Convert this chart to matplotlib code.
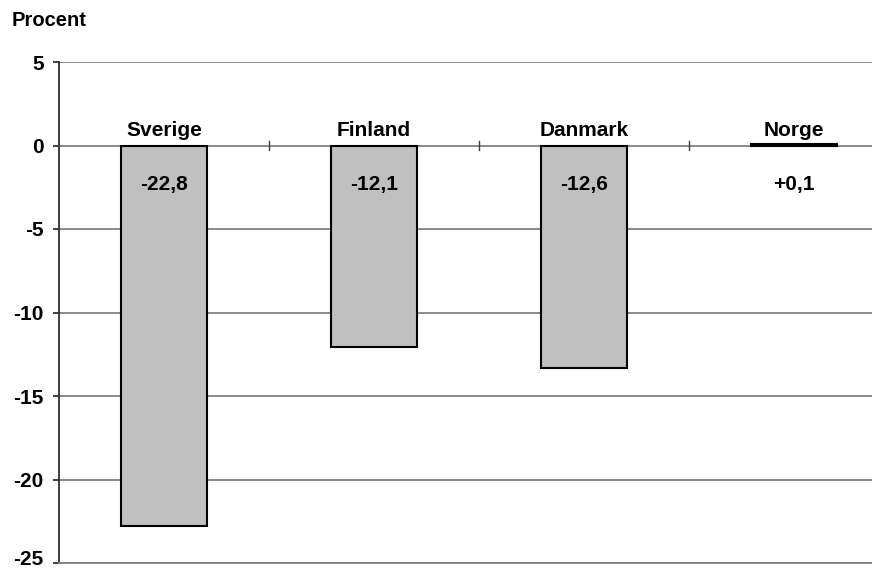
import matplotlib
matplotlib.use("Agg")
import matplotlib.pyplot as plt

# Data
lander = ["Sverige", "Finland", "Danmark", "Norge"]
forandring = [-22.8, -12.05, -13.35, 0.1]
etiketter = ["-22,8", "-12,1", "-12,6", "+0,1"]
yticks = [5, 0, -5, -10, -15, -20, -25]

plt.rcParams['font.family'] = ['Liberation Sans', 'DejaVu Sans']
plt.rcParams['font.weight'] = 'bold'

fig = plt.figure(figsize=(8.72, 5.71), dpi=100)
ax = fig.add_axes([59 / 872, 1 - 563 / 571, 840 / 872, 501 / 571])

x = range(len(lander))
ax.bar(x, forandring, width=0.41, color='#c0c0c0', edgecolor='black',
       linewidth=1.5, zorder=3)

ax.set_ylim(-25, 5)
ax.set_xlim(-0.5, len(lander) - 0.5)
ax.set_yticks(yticks)
# nedersta etiketten ritas separat, lite uppåt så att den inte klipps
ax.set_yticklabels([str(v) for v in yticks[:-1]] + [""], fontsize=15, fontweight='bold')
ax.annotate(str(yticks[-1]), xy=(0, yticks[-1]), xycoords=('axes fraction', 'data'),
            xytext=(-11, 2.5), textcoords='offset points', ha='right', va='center',
            fontsize=15, fontweight='bold', annotation_clip=False)
ax.yaxis.grid(True, color='#808080', linewidth=1.3, zorder=0)
ax.set_axisbelow(True)

# kategoriaxeln vid y=0 med skiljestreck
ax.set_xticks([])
for i in range(1, len(lander)):
    ax.plot([i - 0.5, i - 0.5], [-0.25, 0.25], color='#404040', linewidth=1, zorder=2)

for s in ['top', 'right']:
    ax.spines[s].set_visible(False)
ax.spines['bottom'].set_color('#808080')
ax.spines['bottom'].set_linewidth(1.3)
ax.spines['left'].set_color('#303030')
ax.spines['left'].set_linewidth(1.3)
ax.tick_params(axis='y', length=4, width=1.3, color='#303030', pad=7)

for i, (namn, etikett) in enumerate(zip(lander, etiketter)):
    ax.text(i, 0.35, namn, ha='center', va='bottom', fontsize=15, fontweight='bold')
    ax.text(i, -2.35, etikett, ha='center', va='center', fontsize=15, fontweight='bold', zorder=4)

fig.text(12 / 872, 1 - 21 / 571, "Procent", ha='left', va='center', fontsize=14.5, fontweight='bold')

fig.savefig("out.png", dpi=100)
